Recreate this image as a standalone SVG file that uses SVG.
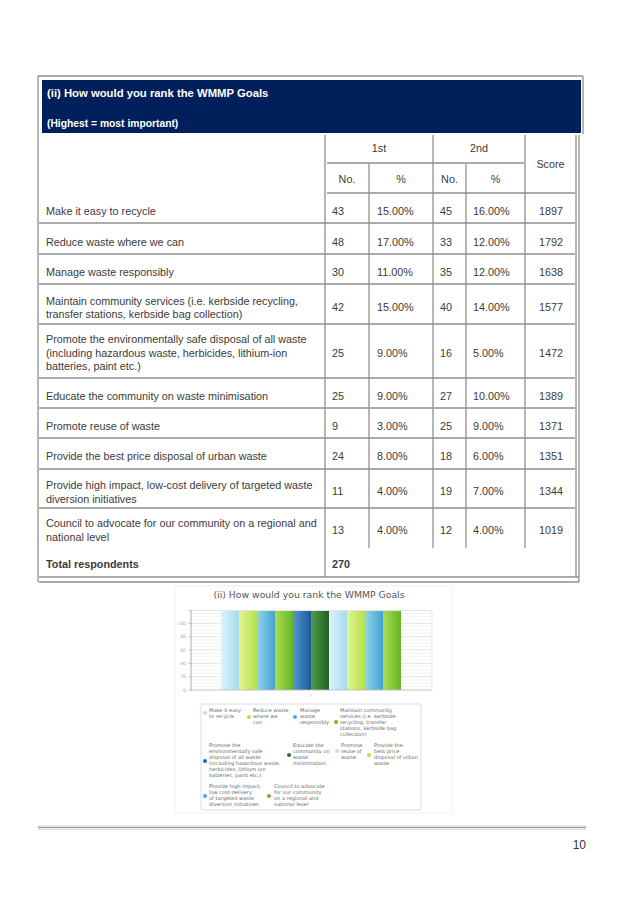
<svg xmlns="http://www.w3.org/2000/svg" width="637" height="901" viewBox="0 0 637 901">
<style>
.t{font-family:"Liberation Sans",Arial,sans-serif;font-size:10.8px;fill:#3b3b3b}
.b{font-weight:bold}
.c{text-anchor:middle}
.hd{font-family:"Liberation Sans",Arial,sans-serif;font-weight:bold;fill:#ffffff}
.g{stroke:#8f8f8f;stroke-width:1.3;fill:none}
.lg{font-family:"DejaVu Sans",Verdana,sans-serif;font-size:5.1px;fill:#6a6a6a}
.yl{font-family:"DejaVu Sans",Verdana,sans-serif;font-size:4.6px;fill:#b0b0b0;text-anchor:end}
.mi{stroke:#f0f0f0;stroke-width:0.8}
.ma{stroke:#dedede;stroke-width:0.8}
</style>
<defs>
<linearGradient id="g1" x1="0" x2="1" y1="0" y2="0"><stop offset="0" stop-color="#dcf3fb"/><stop offset="1" stop-color="#a4daee"/></linearGradient>
<linearGradient id="g2" x1="0" x2="1" y1="0" y2="0"><stop offset="0" stop-color="#e2f68e"/><stop offset="1" stop-color="#b6df4c"/></linearGradient>
<linearGradient id="g3" x1="0" x2="1" y1="0" y2="0"><stop offset="0" stop-color="#92d4eb"/><stop offset="1" stop-color="#42a4d0"/></linearGradient>
<linearGradient id="g4" x1="0" x2="1" y1="0" y2="0"><stop offset="0" stop-color="#acdd55"/><stop offset="1" stop-color="#63b722"/></linearGradient>
<linearGradient id="g5" x1="0" x2="1" y1="0" y2="0"><stop offset="0" stop-color="#5396cd"/><stop offset="1" stop-color="#1d5a9c"/></linearGradient>
<linearGradient id="g6" x1="0" x2="1" y1="0" y2="0"><stop offset="0" stop-color="#529c4f"/><stop offset="1" stop-color="#216121"/></linearGradient>
</defs>
<rect width="637" height="901" fill="#ffffff"/>

<g id="table-frame">
<line class="g" x1="38" y1="76" x2="583" y2="76"/>
<line class="g" x1="38" y1="76" x2="38" y2="582"/>
<line class="g" x1="583" y1="76" x2="583" y2="134"/>
<rect x="42" y="80" width="539" height="53" fill="#00205b"/>
<text class="hd" x="47" y="97" font-size="11.3">(ii) How would you rank the WMMP Goals</text>
<text class="hd" x="47" y="127" font-size="10.3">(Highest = most important)</text>
</g>

<g id="table-grid">
<line class="g" x1="325" y1="135" x2="325" y2="577"/>
<line class="g" x1="369" y1="164" x2="369" y2="548"/>
<line class="g" x1="433" y1="135" x2="433" y2="548"/>
<line class="g" x1="466" y1="164" x2="466" y2="548"/>
<line class="g" x1="525" y1="135" x2="525" y2="548"/>
<line class="g" x1="576" y1="135" x2="576" y2="577"/>
<line class="g" x1="579" y1="135" x2="579" y2="582"/>
<line class="g" x1="327" y1="163" x2="524" y2="163"/>
<line class="g" x1="327" y1="193" x2="575" y2="193"/>
<line class="g" x1="39" y1="223" x2="575" y2="223"/>
<line class="g" x1="39" y1="254" x2="575" y2="254"/>
<line class="g" x1="39" y1="284" x2="575" y2="284"/>
<line class="g" x1="39" y1="324" x2="575" y2="324"/>
<line class="g" x1="39" y1="378" x2="575" y2="378"/>
<line class="g" x1="39" y1="408" x2="575" y2="408"/>
<line class="g" x1="39" y1="438" x2="575" y2="438"/>
<line class="g" x1="39" y1="469" x2="575" y2="469"/>
<line class="g" x1="39" y1="508" x2="575" y2="508"/>
<line class="g" x1="39" y1="577" x2="579" y2="577"/>
<line class="g" x1="39" y1="582" x2="579" y2="582"/>
</g>

<g id="table-header">
<text class="t c" x="379" y="152">1st</text>
<text class="t c" x="479" y="152">2nd</text>
<text class="t c" x="347" y="183">No.</text>
<text class="t c" x="401" y="183">%</text>
<text class="t c" x="449.5" y="183">No.</text>
<text class="t c" x="495.5" y="183">%</text>
<text class="t c" x="550.5" y="168">Score</text>
</g>

<g id="table-rows">
<g id="row1">
<text class="t" x="46" y="214.5">Make it easy to recycle</text>
<text class="t" x="332" y="214.5">43</text><text class="t" x="377" y="214.5">15.00%</text><text class="t" x="440" y="214.5">45</text><text class="t" x="473" y="214.5">16.00%</text><text class="t c" x="551" y="214.5">1897</text>
</g>
<g id="row2">
<text class="t" x="46" y="245.5">Reduce waste where we can</text>
<text class="t" x="332" y="245.5">48</text><text class="t" x="377" y="245.5">17.00%</text><text class="t" x="440" y="245.5">33</text><text class="t" x="473" y="245.5">12.00%</text><text class="t c" x="551" y="245.5">1792</text>
</g>
<g id="row3">
<text class="t" x="46" y="275.5">Manage waste responsibly</text>
<text class="t" x="332" y="275.5">30</text><text class="t" x="377" y="275.5">11.00%</text><text class="t" x="440" y="275.5">35</text><text class="t" x="473" y="275.5">12.00%</text><text class="t c" x="551" y="275.5">1638</text>
</g>
<g id="row4">
<text class="t" x="46" y="304.5">Maintain community services (i.e. kerbside recycling,</text>
<text class="t" x="46" y="318">transfer stations, kerbside bag collection)</text>
<text class="t" x="332" y="310.5">42</text><text class="t" x="377" y="310.5">15.00%</text><text class="t" x="440" y="310.5">40</text><text class="t" x="473" y="310.5">14.00%</text><text class="t c" x="551" y="310.5">1577</text>
</g>
<g id="row5">
<text class="t" x="46" y="343">Promote the environmentally safe disposal of all waste</text>
<text class="t" x="46" y="356.5">(including hazardous waste, herbicides, lithium-ion</text>
<text class="t" x="46" y="370">batteries, paint etc.)</text>
<text class="t" x="332" y="357">25</text><text class="t" x="377" y="357">9.00%</text><text class="t" x="440" y="357">16</text><text class="t" x="473" y="357">5.00%</text><text class="t c" x="551" y="357">1472</text>
</g>
<g id="row6">
<text class="t" x="46" y="399.5">Educate the community on waste minimisation</text>
<text class="t" x="332" y="399.5">25</text><text class="t" x="377" y="399.5">9.00%</text><text class="t" x="440" y="399.5">27</text><text class="t" x="473" y="399.5">10.00%</text><text class="t c" x="551" y="399.5">1389</text>
</g>
<g id="row7">
<text class="t" x="46" y="430">Promote reuse of waste</text>
<text class="t" x="332" y="430">9</text><text class="t" x="377" y="430">3.00%</text><text class="t" x="440" y="430">25</text><text class="t" x="473" y="430">9.00%</text><text class="t c" x="551" y="430">1371</text>
</g>
<g id="row8">
<text class="t" x="46" y="460">Provide the best price disposal of urban waste</text>
<text class="t" x="332" y="460">24</text><text class="t" x="377" y="460">8.00%</text><text class="t" x="440" y="460">18</text><text class="t" x="473" y="460">6.00%</text><text class="t c" x="551" y="460">1351</text>
</g>
<g id="row9">
<text class="t" x="46" y="489">Provide high impact, low-cost delivery of targeted waste</text>
<text class="t" x="46" y="502.5">diversion initiatives</text>
<text class="t" x="332" y="495">11</text><text class="t" x="377" y="495">4.00%</text><text class="t" x="440" y="495">19</text><text class="t" x="473" y="495">7.00%</text><text class="t c" x="551" y="495">1344</text>
</g>
<g id="row10">
<text class="t" x="46" y="527">Council to advocate for our community on a regional and</text>
<text class="t" x="46" y="541">national level</text>
<text class="t" x="332" y="534">13</text><text class="t" x="377" y="534">4.00%</text><text class="t" x="440" y="534">12</text><text class="t" x="473" y="534">4.00%</text><text class="t c" x="551" y="534">1019</text>
</g>
<g id="row-total">
<text class="t b" x="46" y="568">Total respondents</text>
<text class="t b" x="332" y="568">270</text>
</g>
</g>

<g id="chart">
<rect x="175" y="586" width="277" height="227" fill="none" stroke="#ececec" stroke-width="0.8"/>
<text x="309" y="598" font-family="'DejaVu Sans',Verdana,sans-serif" font-size="9.3" fill="#555555" text-anchor="middle">(ii) How would you rank the WMMP Goals</text>
<g id="grid">
<line class="mi" x1="191" y1="686.7" x2="432" y2="686.7"/>
<line class="mi" x1="191" y1="683.3" x2="432" y2="683.3"/>
<line class="mi" x1="191" y1="680" x2="432" y2="680"/>
<line class="ma" x1="191" y1="676.7" x2="432" y2="676.7"/>
<line class="mi" x1="191" y1="673.3" x2="432" y2="673.3"/>
<line class="mi" x1="191" y1="670" x2="432" y2="670"/>
<line class="mi" x1="191" y1="666.7" x2="432" y2="666.7"/>
<line class="ma" x1="191" y1="663.3" x2="432" y2="663.3"/>
<line class="mi" x1="191" y1="660" x2="432" y2="660"/>
<line class="mi" x1="191" y1="656.7" x2="432" y2="656.7"/>
<line class="mi" x1="191" y1="653.3" x2="432" y2="653.3"/>
<line class="ma" x1="191" y1="650" x2="432" y2="650"/>
<line class="mi" x1="191" y1="646.7" x2="432" y2="646.7"/>
<line class="mi" x1="191" y1="643.3" x2="432" y2="643.3"/>
<line class="mi" x1="191" y1="640" x2="432" y2="640"/>
<line class="ma" x1="191" y1="636.7" x2="432" y2="636.7"/>
<line class="mi" x1="191" y1="633.3" x2="432" y2="633.3"/>
<line class="mi" x1="191" y1="630" x2="432" y2="630"/>
<line class="mi" x1="191" y1="626.7" x2="432" y2="626.7"/>
<line class="ma" x1="191" y1="623.3" x2="432" y2="623.3"/>
<line class="mi" x1="191" y1="620" x2="432" y2="620"/>
<line class="mi" x1="191" y1="616.7" x2="432" y2="616.7"/>
<line class="mi" x1="191" y1="613.3" x2="432" y2="613.3"/>
<line class="ma" x1="191" y1="610.5" x2="432" y2="610.5"/>
<line x1="432" y1="610" x2="432" y2="690" stroke="#e0e0e0" stroke-width="0.8"/>
</g>
<g id="bars">
<rect x="221" y="611" width="18" height="79" fill="url(#g1)"/>
<rect x="239" y="611" width="18" height="79" fill="url(#g2)"/>
<rect x="257" y="611" width="18" height="79" fill="url(#g3)"/>
<rect x="275" y="611" width="18" height="79" fill="url(#g4)"/>
<rect x="293" y="611" width="18" height="79" fill="url(#g5)"/>
<rect x="311" y="611" width="18" height="79" fill="url(#g6)"/>
<rect x="329" y="611" width="18" height="79" fill="url(#g1)"/>
<rect x="347" y="611" width="18" height="79" fill="url(#g2)"/>
<rect x="365" y="611" width="18" height="79" fill="url(#g3)"/>
<rect x="383" y="611" width="18" height="79" fill="url(#g4)"/>
</g>
<g id="axes">
<line x1="191" y1="610" x2="191" y2="690.5" stroke="#9a9a9a" stroke-width="0.8"/>
<line x1="191" y1="690" x2="432" y2="690" stroke="#b8b8b8" stroke-width="0.8"/>
<path d="M188.5 623.3H191M188.5 636.7H191M188.5 650H191M188.5 663.3H191M188.5 676.7H191M188.5 690H191M188.5 610.5H191" stroke="#9a9a9a" stroke-width="0.6"/>
<line x1="311" y1="694" x2="311" y2="697" stroke="#cccccc" stroke-width="0.7"/>
<text class="yl" x="186" y="625">100</text>
<text class="yl" x="186" y="638.4">80</text>
<text class="yl" x="186" y="651.7">60</text>
<text class="yl" x="186" y="665">40</text>
<text class="yl" x="186" y="678.4">20</text>
<text class="yl" x="186" y="691.7">0</text>
</g>
</g>

<g id="legend">
<rect x="201" y="704" width="220" height="106" rx="1.5" fill="#ffffff" stroke="#d2d2d2" stroke-width="0.8"/>
<circle cx="205" cy="713" r="2" fill="#b4e2f3"/>
<text class="lg" x="209" y="711.5">Make it easy<tspan x="209" dy="6.1">to recycle</tspan></text>
<circle cx="249" cy="717" r="2" fill="#b6e04c"/>
<text class="lg" x="253" y="711.5">Reduce waste<tspan x="253" dy="6.1">where we</tspan><tspan x="253" dy="6.1">can</tspan></text>
<circle cx="295" cy="717" r="2" fill="#4aaad6"/>
<text class="lg" x="300" y="711.5">Manage<tspan x="300" dy="6.1">waste</tspan><tspan x="300" dy="6.1">responsibly</tspan></text>
<circle cx="336" cy="722" r="2" fill="#68bc28"/>
<text class="lg" x="340" y="711.5">Maintain community<tspan x="340" dy="6.1">services (i.e. kerbside</tspan><tspan x="340" dy="6.1">recycling, transfer</tspan><tspan x="340" dy="6.1">stations, kerbside bag</tspan><tspan x="340" dy="6.1">collection)</tspan></text>
<circle cx="205" cy="761" r="2" fill="#2366b0"/>
<text class="lg" x="209" y="746.5">Promote the<tspan x="209" dy="6.1">environmentally safe</tspan><tspan x="209" dy="6.1">disposal of all waste</tspan><tspan x="209" dy="6.1">(including hazardous waste,</tspan><tspan x="209" dy="6.1">herbicides, lithium ion</tspan><tspan x="209" dy="6.1">batteries, paint etc.)</tspan></text>
<circle cx="289" cy="755" r="2" fill="#2a6e2a"/>
<text class="lg" x="293" y="746.5">Educate the<tspan x="293" dy="6.1">community on</tspan><tspan x="293" dy="6.1">waste</tspan><tspan x="293" dy="6.1">minimisation</tspan></text>
<circle cx="337" cy="751" r="2" fill="#b4e2f3"/>
<text class="lg" x="341" y="746.5">Promote<tspan x="341" dy="6.1">reuse of</tspan><tspan x="341" dy="6.1">waste</tspan></text>
<circle cx="369" cy="755" r="2" fill="#b6e04c"/>
<text class="lg" x="374" y="746.5">Provide the<tspan x="374" dy="6.1">best price</tspan><tspan x="374" dy="6.1">disposal of urban</tspan><tspan x="374" dy="6.1">waste</tspan></text>
<circle cx="205" cy="796" r="2" fill="#4aaad6"/>
<text class="lg" x="209" y="787.5">Provide high impact,<tspan x="209" dy="6.1">low cost delivery</tspan><tspan x="209" dy="6.1">of targeted waste</tspan><tspan x="209" dy="6.1">diversion initiatives</tspan></text>
<circle cx="269" cy="796" r="2" fill="#68bc28"/>
<text class="lg" x="274" y="787.5">Council to advocate<tspan x="274" dy="6.1">for our community</tspan><tspan x="274" dy="6.1">on a regional and</tspan><tspan x="274" dy="6.1">national level</tspan></text>
</g>

<g id="footer">
<rect x="38" y="825" width="548" height="5" fill="#e6e6e6"/>
<line x1="38" y1="827.5" x2="586" y2="827.5" stroke="#9a9a9a" stroke-width="1.2"/>
<text x="586" y="849" font-family="'Liberation Sans',Arial,sans-serif" font-size="12" fill="#333333" text-anchor="end">10</text>
</g>
</svg>
